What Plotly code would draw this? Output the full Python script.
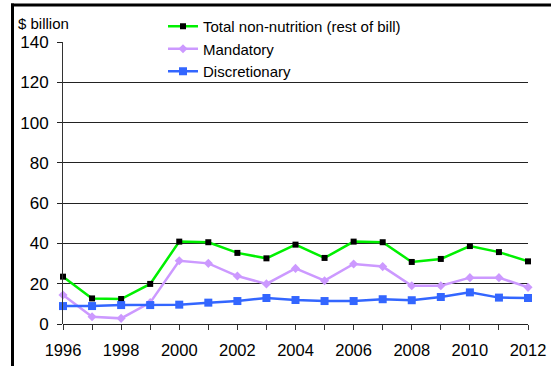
import plotly.graph_objects as go

years = list(range(1996, 2013))
total = [23.5, 12.7, 12.4, 19.9, 40.9, 40.6, 35.3, 32.6, 39.4, 32.8, 40.9, 40.6, 30.8, 32.3, 38.7, 35.7, 31.1]
mandatory = [14.4, 3.6, 2.8, 10.6, 31.4, 30.1, 23.8, 19.9, 27.6, 21.5, 29.8, 28.5, 19.0, 19.0, 23.0, 23.0, 18.2]
discretionary = [8.9, 8.9, 9.4, 9.4, 9.6, 10.6, 11.4, 12.9, 11.9, 11.4, 11.4, 12.3, 11.8, 13.4, 15.7, 13.1, 12.9]
y_ticks = [0, 20, 40, 60, 80, 100, 120, 140]
x_labels = [str(y) if y % 2 == 0 else "" for y in years]

FONT = "Liberation Sans, Arial, sans-serif"

fig = go.Figure()
fig.add_trace(go.Scatter(x=years, y=total, name="Total non-nutrition (rest of bill)",
                         mode="lines+markers", cliponaxis=False,
                         line=dict(color="#00f000", width=2.5),
                         marker=dict(symbol="square", size=6, color="black")))
fig.add_trace(go.Scatter(x=years, y=mandatory, name="Mandatory",
                         mode="lines+markers", cliponaxis=False,
                         line=dict(color="#cc99ff", width=2.5),
                         marker=dict(symbol="diamond", size=7, color="#cc99ff")))
fig.add_trace(go.Scatter(x=years, y=discretionary, name="Discretionary",
                         mode="lines+markers", cliponaxis=False,
                         line=dict(color="#3366ff", width=2.5),
                         marker=dict(symbol="square", size=8, color="#3366ff")))

L, R, T, B = 63, 23, 42, 42
W, H = 551, 366
pw, ph = W - L - R, H - T - B

def px(x):
    return (x - L) / pw

def py(y):
    return (H - B - y) / ph

fig.update_layout(
    template="none",
    width=W, height=H,
    margin=dict(l=L, r=R, t=T, b=B, pad=0, autoexpand=False),
    paper_bgcolor="white", plot_bgcolor="white",
    font=dict(family=FONT, color="black"),
    showlegend=True,
    legend=dict(x=px(163), y=py(10), xanchor="left", yanchor="top",
                bgcolor="rgba(0,0,0,0)", borderwidth=0, font=dict(size=15, family=FONT),
                itemwidth=30, tracegroupgap=0),
    xaxis=dict(range=[1996, 2012], tickvals=years, ticktext=x_labels,
               ticks="outside", ticklen=5, tickcolor="#333", showgrid=False,
               showline=False, zeroline=False, tickfont=dict(size=16.5),
               ticklabelstandoff=6, automargin=False),
    yaxis=dict(range=[0, 140], tickvals=y_ticks, ticks="outside", ticklen=5,
               tickcolor="#222", showgrid=True, gridcolor="#222", gridwidth=1,
               zeroline=True, zerolinecolor="#222", zerolinewidth=1,
               showline=True, linecolor="#333", linewidth=1,
               tickfont=dict(size=17), ticklabelstandoff=5, automargin=False),
    annotations=[dict(text="$ billion", xref="paper", yref="paper",
                      x=px(16), y=py(23), xanchor="left", yanchor="middle",
                      showarrow=False, font=dict(size=15, family=FONT))],
    shapes=[
        dict(type="rect", xref="paper", yref="paper", x0=px(168), x1=px(416),
             y0=py(76), y1=py(14), fillcolor="white", line=dict(width=0),
             layer="above"),
        dict(type="line", xref="paper", yref="paper", x0=px(12.5), x1=px(12.5),
             y0=py(3.5), y1=py(380), line=dict(color="black", width=3)),
        dict(type="line", xref="paper", yref="paper", x0=px(11), x1=px(570),
             y0=py(5), y1=py(5), line=dict(color="black", width=3)),
    ],
)
fig.write_html("out.html", config={"displayModeBar": False},
               post_script="document.body.style.margin='0';")
